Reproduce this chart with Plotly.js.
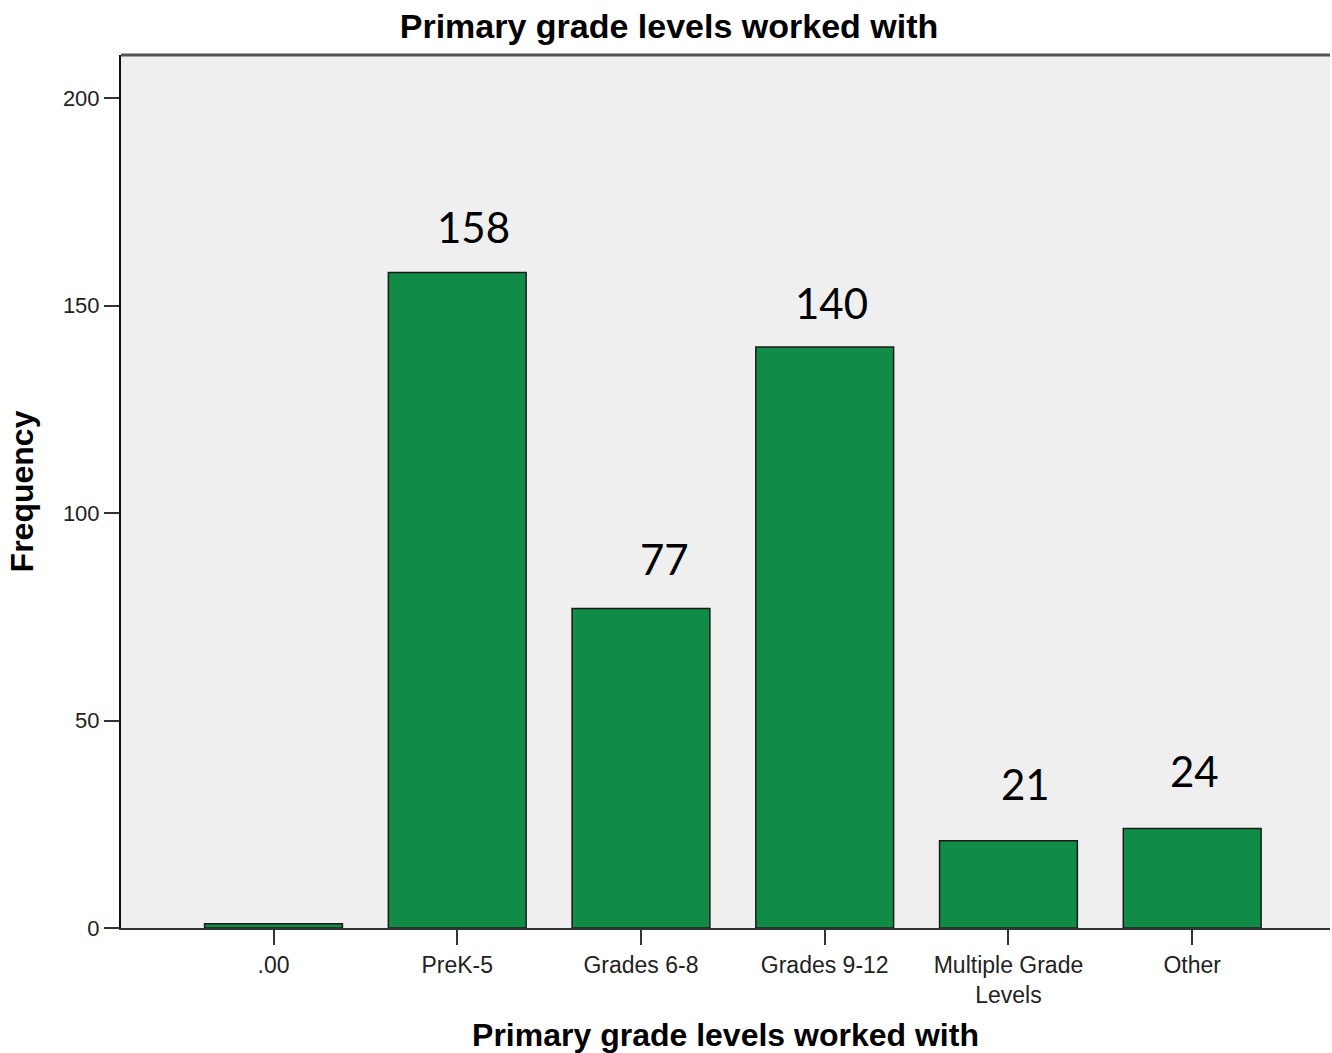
<!DOCTYPE html>
<html>
<head>
<meta charset="utf-8">
<script src="https://cdn.plot.ly/plotly-3.0.1.min.js"></script>
<style>html,body{margin:0;padding:0;background:#fff;}#chart{width:1332px;height:1053px;}</style>
</head>
<body>
<div id="chart"></div>
<script>
// Data
const categories = [".00", "PreK-5", "Grades 6-8", "Grades 9-12", "Multiple Grade<br>Levels", "Other"];
const frequencies = [1, 158, 77, 140, 21, 24];
const labelled = [false, true, true, true, true, true];
const yTicks = [0, 50, 100, 150, 200];

// label placement offsets (pixels), styling only
const labelDx = [0, 16, 24, 7, 17, 2];
const labelDy = [0, 45, 50, 44, 57, 57];

const trace = {
  type: "bar",
  x: categories,
  y: frequencies,
  width: 0.75,
  marker: { color: "#118c47", line: { color: "#1b1b1b", width: 1.5 } },
  hoverinfo: "x+y"
};

const annotations = [];
frequencies.forEach((v, i) => {
  if (!labelled[i]) return;
  annotations.push({
    x: i, y: v, xref: "x", yref: "y",
    text: String(v), showarrow: false,
    xanchor: "center", yanchor: "middle",
    xshift: labelDx[i], yshift: labelDy[i],
    font: { family: "Lato, 'DejaVu Sans', sans-serif", size: 42, color: "#000" }
  });
});

const layout = {
  width: 1332, height: 1053,
  margin: { l: 121, r: 2, t: 55, b: 125 },
  paper_bgcolor: "#ffffff",
  plot_bgcolor: "#efefef",
  showlegend: false,
  title: {
    text: "<b>Primary grade levels worked with</b>",
    x: 669 / 1332, xref: "container", xanchor: "center",
    y: 1 - 26 / 1053, yref: "container", yanchor: "middle",
    font: { family: "'Liberation Sans', Arial, sans-serif", size: 34, color: "#000" }
  },
  xaxis: {
    type: "category",
    range: [-0.83, 5.75],
    showline: true, linecolor: "#333", linewidth: 2, mirror: false,
    ticks: "outside", ticklen: 15, tickwidth: 2, tickcolor: "#333",
    tickfont: { family: "'Liberation Sans', Arial, sans-serif", size: 23, color: "#222" },
    showgrid: false, zeroline: false,
    title: {
      text: "<b>Primary grade levels worked with</b>",
      standoff: 20,
      font: { family: "'Liberation Sans', Arial, sans-serif", size: 32, color: "#000" }
    },
    automargin: false
  },
  yaxis: {
    range: [0, 210.4],
    tickvals: yTicks,
    showline: true, linecolor: "#111", linewidth: 2,
    ticks: "outside", ticklen: 15, tickwidth: 2, tickcolor: "#333",
    tickfont: { family: "'Liberation Sans', Arial, sans-serif", size: 22, color: "#222" },
    showgrid: false, zeroline: false,
    title: {
      text: "<b>Frequency</b>",
      standoff: 20,
      font: { family: "'Liberation Sans', Arial, sans-serif", size: 32, color: "#000" }
    },
    automargin: false
  },
  shapes: [
    { type: "line", xref: "paper", yref: "paper", x0: 0, x1: 1, y0: 1, y1: 1,
      line: { color: "#555", width: 3 } }
  ],
  annotations: annotations,
  bargap: 0.25
};

Plotly.newPlot("chart", [trace], layout, { displayModeBar: false, staticPlot: true });
</script>
</body>
</html>
